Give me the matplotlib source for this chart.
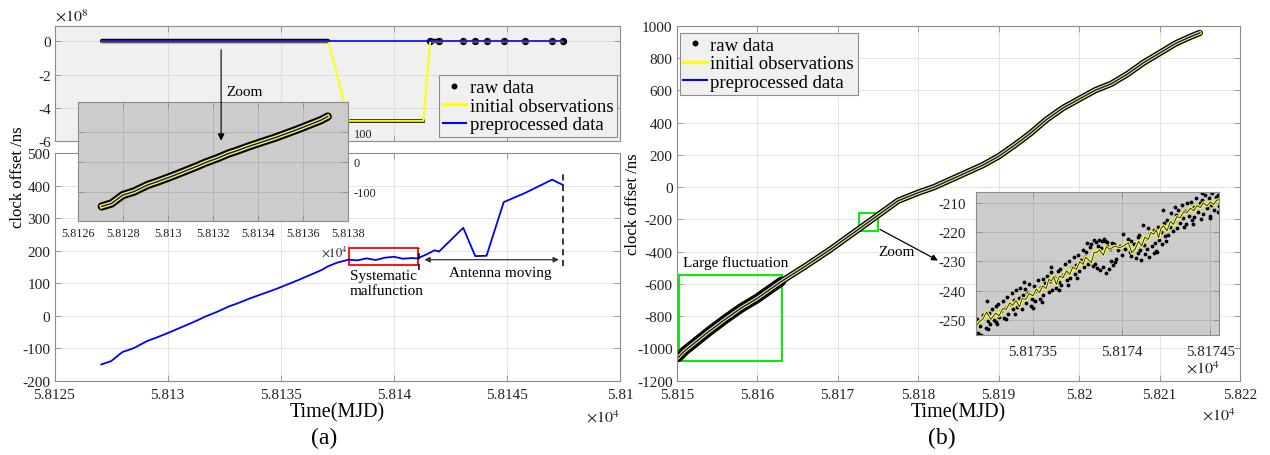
import matplotlib
matplotlib.use("Agg")
import matplotlib.pyplot as plt
from matplotlib.lines import Line2D
from matplotlib.patches import Rectangle, FancyArrowPatch

plt.rcParams['font.family'] = ['Liberation Serif', 'DejaVu Serif']
plt.rcParams['mathtext.fontset'] = 'stix'

# ---------------- panel (a) data (MJD, ns) ----------------
dense_t_a = [58127.07, 58127.5, 58128.0, 58128.5, 58129.1, 58129.6, 58130.2, 58130.8,
             58131.3, 58131.66, 58132.2, 58132.7, 58133.1, 58133.6, 58134.2, 58134.8,
             58135.3, 58135.8, 58136.4, 58136.8, 58137.1]
dense_a = [-150, -140, -112, -100, -78, -65, -48, -30, -15, -3, 12, 28, 38, 52, 67, 82,
           96, 110, 128, 140, 152]

# preprocessed data after the dense part (malfunction replaced, antenna moving)
fix_t_a = [58137.5, 58138.0, 58138.4, 58138.8, 58139.2, 58139.6, 58140.0, 58140.4,
           58140.8, 58141.05, 58141.5, 58141.8, 58142.0, 58143.07, 58143.6, 58144.1,
           58144.86, 58145.8, 58147.0, 58147.47]
fix_a = [163, 172, 170, 176, 171, 178, 181, 175, 177, 176, 190, 201, 197, 270, 183, 184,
         349, 377, 418, 402]

# initial observations after the dense part (malfunction at -4.8e8 ns)
obs_t_a = [58138.0, 58141.3, 58141.6, 58142.0, 58143.07, 58143.6, 58144.1, 58144.86,
           58145.8, 58147.0, 58147.47]
obs_a = [-4.8e8, -4.8e8, 195, 197, 270, 183, 184, 349, 377, 418, 402]

xticks_a = [58125, 58130, 58135, 58140, 58145, 58150]
xticklabels_a = ['5.8125', '5.813', '5.8135', '5.814', '5.8145', '5.81']
yticks_a = [-200, -100, 0, 100, 200, 300, 400, 500]
yticks_top = [-6e8, -4e8, -2e8, 0]
yticklabels_top = ['-6', '-4', '-2', '0']
xticks_za = [58126, 58128, 58130, 58132, 58134, 58136, 58138]
xticklabels_za = ['5.8126', '5.8128', '5.813', '5.8132', '5.8134', '5.8136', '5.8138']
yticks_za = [-100, 0, 100]

# ---------------- panel (b) data ----------------
t_b = [58150.2, 58151, 58152, 58154, 58156, 58158, 58160, 58163, 58166, 58169, 58172.5,
       58175, 58177.5, 58180, 58182, 58184, 58186, 58188, 58190, 58192, 58194, 58196,
       58198, 58200, 58202, 58204, 58206, 58208, 58210, 58212, 58214, 58215]
y_b = [-1055, -1015, -975, -895, -820, -750, -690, -585, -490, -390, -265,
       -175, -85, -35, 0, 45, 90, 135, 190, 260, 335, 420,
       490, 545, 600, 640, 700, 770, 830, 890, 935, 955]

zoom_line_t = [58173.175, 58173.2, 58173.217, 58173.24, 58173.264, 58173.29, 58173.31,
               58173.33, 58173.35, 58173.37, 58173.387, 58173.405, 58173.425, 58173.44,
               58173.46, 58173.48, 58173.5, 58173.52, 58173.538, 58173.555, 58173.575,
               58173.59, 58173.604, 58173.618, 58173.632, 58173.65, 58173.67, 58173.69,
               58173.708, 58173.725, 58173.745, 58173.765, 58173.783, 58173.797, 58173.811,
               58173.83, 58173.845, 58173.858, 58173.876, 58173.896, 58173.915, 58173.934,
               58173.96, 58173.99, 58174.015, 58174.038, 58174.057, 58174.075, 58174.095,
               58174.113, 58174.13, 58174.15, 58174.165, 58174.18, 58174.195, 58174.208,
               58174.222, 58174.236, 58174.255, 58174.275, 58174.292, 58174.31, 58174.33,
               58174.35, 58174.368, 58174.388, 58174.406, 58174.425, 58174.443, 58174.46,
               58174.48, 58174.5, 58174.519, 58174.535, 58174.553]
zoom_line_y = [-252.5, -250.4, -249.7, -247.2, -249.7, -247.6, -248.5, -246.0, -246.3,
               -244.1, -244.9, -243.3, -245.4, -242.6, -242.9, -240.9, -241.7, -239.4,
               -240.6, -238.3, -239.2, -236.1, -236.6, -235.2, -237.8, -235.0, -235.5,
               -233.2, -234.4, -231.9, -232.7, -230.0, -231.0, -228.6, -229.3, -230.4,
               -226.9, -227.0, -226.1, -227.9, -225.0, -225.9, -224.8, -225.3, -224.6,
               -223.6, -227.0, -225.9, -223.2, -224.7, -221.8, -222.5, -220.1, -220.8,
               -219.3, -221.9, -218.7, -217.9, -219.6, -216.4, -217.4, -214.8, -215.1,
               -213.1, -213.4, -211.9, -212.8, -211.0, -211.7, -210.1, -211.1, -209.8,
               -210.6, -209.2, -208.9]

zoom_raw = [
    (58173.185, -249.5), (58173.19, -254.2), (58173.20, -251.8), (58173.21, -255.0),
    (58173.22, -248.3), (58173.235, -252.6), (58173.24, -243.4), (58173.245, -250.1),
    (58173.255, -247.6), (58173.26, -251.4), (58173.27, -246.2), (58173.28, -249.9),
    (58173.29, -245.1), (58173.295, -250.6), (58173.305, -244.3), (58173.31, -248.8),
    (58173.32, -246.7), (58173.33, -243.5), (58173.34, -249.2), (58173.345, -245.8),
    (58173.355, -242.1), (58173.36, -247.9), (58173.37, -244.6), (58173.38, -240.8),
    (58173.39, -246.3), (58173.395, -243.2), (58173.405, -239.7), (58173.41, -245.5),
    (58173.42, -242.4), (58173.43, -238.9), (58173.44, -246.1), (58173.445, -241.3),
    (58173.455, -239.5), (58173.46, -244.2), (58173.47, -240.7), (58173.48, -237.6),
    (58173.49, -245.0), (58173.495, -242.8), (58173.505, -238.2), (58173.51, -243.6),
    (58173.52, -240.1), (58173.53, -236.4), (58173.54, -242.9), (58173.545, -238.8),
    (58173.555, -235.9), (58173.56, -241.4), (58173.57, -237.3), (58173.58, -234.8),
    (58173.59, -240.5), (58173.595, -236.6), (58173.605, -233.7), (58173.61, -239.6),
    (58173.62, -235.4), (58173.63, -238.9), (58173.64, -233.1), (58173.645, -236.9),
    (58173.655, -232.4), (58173.66, -238.1), (58173.67, -234.6), (58173.68, -230.9),
    (58173.69, -236.2), (58173.695, -233.5), (58173.705, -229.8), (58173.71, -235.7),
    (58173.72, -232.0), (58173.73, -228.6), (58173.74, -234.1), (58173.745, -231.3),
    (58173.755, -227.9), (58173.76, -233.4), (58173.77, -229.5), (58173.78, -226.2),
    (58173.79, -231.8), (58173.795, -228.4), (58173.805, -223.6), (58173.81, -230.7),
    (58173.82, -225.1), (58173.83, -224.0), (58173.84, -231.6), (58173.845, -222.8),
    (58173.855, -223.5), (58173.86, -232.3), (58173.865, -224.7), (58173.87, -222.6),
    (58173.88, -233.0), (58173.885, -225.4), (58173.89, -223.2), (58173.895, -231.9),
    (58173.905, -222.9), (58173.91, -233.8), (58173.915, -224.6), (58173.92, -223.4),
    (58173.93, -232.5), (58173.935, -225.8), (58173.94, -229.9), (58173.945, -223.7),
    (58173.955, -224.2), (58173.96, -230.3), (58173.97, -229.1), (58173.98, -226.0),
    (58173.99, -224.7), (58174.005, -220.6), (58174.02, -225.9), (58174.035, -222.4),
    (58174.045, -226.8), (58174.055, -228.3), (58174.06, -226.4), (58174.07, -224.1),
    (58174.08, -228.9), (58174.09, -227.2), (58174.095, -221.8), (58174.105, -226.0),
    (58174.11, -229.4), (58174.12, -217.6), (58174.125, -224.3), (58174.13, -227.5),
    (58174.14, -222.1), (58174.145, -225.7), (58174.155, -228.6), (58174.16, -220.3),
    (58174.17, -224.8), (58174.18, -227.1), (58174.185, -219.2), (58174.19, -223.6),
    (58174.195, -226.4), (58174.205, -218.4), (58174.21, -222.7), (58174.22, -220.0),
    (58174.23, -224.2), (58174.235, -212.4), (58174.24, -217.1), (58174.245, -221.5),
    (58174.255, -215.8), (58174.26, -220.9), (58174.27, -218.2), (58174.28, -213.6),
    (58174.29, -219.7), (58174.295, -216.4), (58174.305, -214.1), (58174.31, -218.8),
    (58174.32, -212.5), (58174.33, -216.9), (58174.34, -210.7), (58174.345, -215.2),
    (58174.355, -212.9), (58174.36, -217.4), (58174.37, -210.3), (58174.38, -214.6),
    (58174.39, -209.8), (58174.395, -216.0), (58174.405, -211.4), (58174.41, -214.9),
    (58174.42, -208.6), (58174.43, -213.2), (58174.44, -210.0), (58174.445, -215.7),
    (58174.455, -209.1), (58174.46, -213.8), (58174.47, -207.4), (58174.48, -211.9),
    (58174.49, -208.3), (58174.495, -214.4), (58174.505, -210.8), (58174.51, -206.9),
    (58174.52, -212.6), (58174.53, -208.0), (58174.54, -213.1), (58174.545, -207.5),
    (58174.55, -211.2), (58173.25, -253.1), (58173.3, -251.2), (58173.35, -249.6),
    (58173.4, -247.8), (58173.45, -236.9), (58173.5, -245.9), (58173.55, -243.7),
    (58173.6, -231.9), (58173.65, -239.8), (58173.7, -237.9), (58173.75, -235.6),
    (58173.8, -226.8), (58173.85, -230.9), (58173.9, -222.4), (58173.95, -231.2),
    (58174.0, -227.8), (58174.05, -223.0), (58174.1, -220.9), (58174.15, -218.7),
    (58174.2, -226.9), (58174.25, -223.1), (58174.3, -211.6), (58174.35, -218.3),
    (58174.4, -217.2), (58174.45, -206.9), (58174.5, -215.3)]
zoom_raw_t = [p[0] for p in zoom_raw]
zoom_raw_y = [p[1] for p in zoom_raw]

xticks_b = [58150, 58160, 58170, 58180, 58190, 58200, 58210, 58220]
xticklabels_b = ['5.815', '5.816', '5.817', '5.818', '5.819', '5.82', '5.821', '5.822']
yticks_b = [-1200, -1000, -800, -600, -400, -200, 0, 200, 400, 600, 800, 1000]
xticks_zb = [58173.5, 58174.0, 58174.5]
xticklabels_zb = ['5.81735', '5.8174', '5.81745']
yticks_zb = [-250, -240, -230, -220, -210]

W, H = 1270, 456


def box(l, t, r, b):
    return [l / W, 1 - b / H, (r - l) / W, (b - t) / H]


def matlab_axes(ax, face='white', grid='#e4e4e4', size=11, pad=3):
    ax.set_facecolor(face)
    for s in ax.spines.values():
        s.set_color('#8c8c8c')
        s.set_linewidth(0.8)
    ax.tick_params(direction='in', length=4, width=0.6, colors='#8c8c8c',
                   labelcolor='#222222', top=True, right=True, labelsize=size, pad=pad)
    ax.grid(True, color=grid, lw=0.7)
    ax.set_axisbelow(True)


def yticklab(v):
    return ['%g' % x for x in v]


fig = plt.figure(figsize=(W / 100, H / 100), dpi=100)

ax_top = fig.add_axes(box(55, 26.7, 620, 141.7))
ax_bot = fig.add_axes(box(54.5, 154, 620, 381.7))
ax_za = fig.add_axes(box(77.7, 103.3, 348, 222.3))
ax_b = fig.add_axes(box(676.7, 26.7, 1240, 381.7))
ax_zb = fig.add_axes(box(976, 193.3, 1219.3, 336))

# ---- (a) top: full range incl. malfunction ----
matlab_axes(ax_top, face='#f0f0f0', grid='#dcdcdc')
ax_top.plot(dense_t_a, dense_a, color='k', lw=3.2, solid_capstyle='round')
ax_top.plot(obs_t_a[:2], obs_a[:2], color='k', lw=2.6)
ax_top.plot(obs_t_a[2:4], obs_a[2:4], color='k', lw=3.2)
ax_top.plot(obs_t_a[2:], obs_a[2:], 'k.', ms=8.5, ls='none')
ax_top.plot(dense_t_a + obs_t_a, dense_a + obs_a, color='yellow', lw=1.4)
ax_top.plot(dense_t_a + fix_t_a, dense_a + fix_a, color='blue', lw=1.2)
ax_top.set_xlim(58125, 58150)
ax_top.set_ylim(-6e8, 0.95e8)
ax_top.set_xticks(xticks_a)
ax_top.set_xticklabels([])
ax_top.set_yticks(yticks_top)
ax_top.set_yticklabels(yticklabels_top)
ax_top.text(0, 1.01, r'$\times10^{8}$', transform=ax_top.transAxes, ha='left',
            va='bottom', fontsize=11.5, color='#222222')
ax_top.text(58132.6, -3.0e8, 'Zoom', fontsize=11, ha='left', va='center')

handles = [Line2D([], [], ls='none', marker='.', ms=6.5, color='k'),
           Line2D([], [], color='yellow', lw=2.2),
           Line2D([], [], color='blue', lw=1.5)]
labels = ['raw data', 'initial observations', 'preprocessed data']
leg_kw = dict(fontsize=13.5, handlelength=1.25, handletextpad=0.2, labelspacing=0.08,
              borderpad=0.2, borderaxespad=0, fancybox=False, framealpha=1,
              facecolor='#f0f0f0', edgecolor='#8c8c8c')
lg = ax_top.legend(handles, labels, loc='lower right', bbox_to_anchor=(0.995, 0.03), **leg_kw)
lg.get_frame().set_linewidth(0.8)

# ---- (a) bottom: preprocessed ----
matlab_axes(ax_bot)
ax_bot.plot(dense_t_a + fix_t_a, dense_a + fix_a, color='blue', lw=1.3)
ax_bot.set_xlim(58125, 58150)
ax_bot.set_ylim(-200, 500)
ax_bot.set_xticks(xticks_a)
ax_bot.set_xticklabels(xticklabels_a)
ax_bot.set_yticks(yticks_a)
ax_bot.set_yticklabels(yticklab(yticks_a))
ax_bot.tick_params(axis='x', pad=5)
ax_bot.text(1.0, -0.125, r'$\times10^{4}$', transform=ax_bot.transAxes, ha='right',
            va='top', fontsize=11.5, color='#222222')
ax_bot.add_patch(Rectangle((58138.0, 157), 3.05, 51, fill=False, ec='red', lw=1.3))
ax_bot.vlines(58141.1, 140, 208, colors='k', linestyles=(0, (4, 3)), lw=1.1)
ax_bot.vlines(58147.5, 152, 440, colors='k', linestyles=(0, (4, 3)), lw=1.1)
ax_bot.annotate('', xy=(58147.3, 172), xytext=(58141.35, 172),
                arrowprops=dict(arrowstyle='<|-|>', color='#333333', lw=0.9,
                                mutation_scale=8, shrinkA=0, shrinkB=0))
ax_bot.text(58144.7, 134, 'Antenna moving', fontsize=11, ha='center', va='center')
ax_bot.text(58138.05, 143, 'Systematic\nmalfunction', fontsize=11, ha='left', va='top',
            linespacing=1.15)

# ---- (a) inset ----
matlab_axes(ax_za, face='#cccccc', grid='#b5b5b5', size=8.8, pad=4)
ax_za.plot(dense_t_a, dense_a, color='k', lw=6, solid_capstyle='round')
ax_za.plot(dense_t_a, dense_a, color='yellow', lw=3)
ax_za.plot(dense_t_a, dense_a, color='blue', lw=1)
ax_za.set_xlim(58126, 58138)
ax_za.set_ylim(-200, 200)
ax_za.set_xticks(xticks_za)
ax_za.set_xticklabels(xticklabels_za)
ax_za.set_yticks(yticks_za)
ax_za.set_yticklabels(yticklab(yticks_za))
ax_za.tick_params(axis='y', left=True, right=True, labelleft=False, labelright=True)
ax_za.text(1.0, -0.19, r'$\times10^{4}$', transform=ax_za.transAxes, ha='right',
           va='top', fontsize=9, color='#222222')

# ---- (b) main ----
matlab_axes(ax_b)
ax_b.plot(t_b, y_b, color='k', lw=4.6, solid_capstyle='round')
ax_b.plot(t_b[:8], y_b[:8], color='k', lw=7, solid_capstyle='round')
ax_b.plot(t_b, y_b, color='yellow', lw=2.6)
ax_b.plot(t_b, y_b, color='blue', lw=1)
ax_b.set_xlim(58150, 58220)
ax_b.set_ylim(-1200, 1000)
ax_b.set_xticks(xticks_b)
ax_b.set_xticklabels(xticklabels_b)
ax_b.set_yticks(yticks_b)
ax_b.set_yticklabels(yticklab(yticks_b))
ax_b.tick_params(axis='x', pad=5)
ax_b.text(0.993, -0.074, r'$\times10^{4}$', transform=ax_b.transAxes, ha='right',
          va='top', fontsize=11.5, color='#222222')
lg2 = ax_b.legend(handles, labels, loc='upper left', bbox_to_anchor=(0.005, 0.98), **leg_kw)
lg2.get_frame().set_linewidth(0.8)
ax_b.add_patch(Rectangle((58150.3, -1080), 12.8, 537, fill=False, ec='#00ee00', lw=1.4))
ax_b.add_patch(Rectangle((58172.7, -275), 2.3, 114, fill=False, ec='#00ee00', lw=1.4))
ax_b.text(58150.8, -464, 'Large fluctuation', fontsize=11, ha='left', va='center')
ax_b.text(58175.0, -397, 'Zoom', fontsize=11, ha='left', va='center')
ax_b.annotate('', xy=(58182.46, -455), xytext=(58175.25, -262),
              arrowprops=dict(arrowstyle='-|>', color='k', lw=0.9, mutation_scale=9,
                              shrinkA=0, shrinkB=0))

# ---- (b) inset ----
matlab_axes(ax_zb, face='#cccccc', grid='#b5b5b5', size=10.8, pad=7)
ax_zb.plot(zoom_raw_t, zoom_raw_y, 'k.', ms=3.5, ls='none')
ax_zb.plot(zoom_line_t, zoom_line_y, color='yellow', lw=2.4)
ax_zb.plot(zoom_line_t, zoom_line_y, color='blue', lw=0.6)
ax_zb.set_xlim(58173.18, 58174.55)
ax_zb.set_ylim(-255, -206.5)
ax_zb.set_xticks(xticks_zb)
ax_zb.set_xticklabels(xticklabels_zb)
ax_zb.set_yticks(yticks_zb)
ax_zb.set_yticklabels(yticklab(yticks_zb))
ax_zb.text(1.0, -0.18, r'$\times10^{4}$', transform=ax_zb.transAxes, ha='right',
           va='top', fontsize=11.5, color='#222222')

# zoom arrow of (a), drawn above the inset
arr = FancyArrowPatch((58132.35, -0.5e8), (58132.35, -6.0e8), transform=ax_top.transData,
                      arrowstyle='-|>', mutation_scale=10, color='k', lw=0.8,
                      shrinkA=0, shrinkB=0, zorder=5)
fig.add_artist(arr)

# labels
fig.text(18 / W, 1 - 177 / H, 'clock offset /ns', rotation=90, ha='center', va='center',
         fontsize=12)
fig.text(633 / W, 1 - 204 / H, 'clock offset /ns', rotation=90, ha='center', va='center',
         fontsize=12)
fig.text(337 / W, 1 - 413 / H, 'Time(MJD)', ha='center', va='center', fontsize=14.5)
fig.text(958 / W, 1 - 413 / H, 'Time(MJD)', ha='center', va='center', fontsize=14.5)
fig.text(324 / W, 1 - 438 / H, '(a)', ha='center', va='center', fontsize=17)
fig.text(942 / W, 1 - 438 / H, '(b)', ha='center', va='center', fontsize=17)

fig.savefig('out.png', dpi=100)
